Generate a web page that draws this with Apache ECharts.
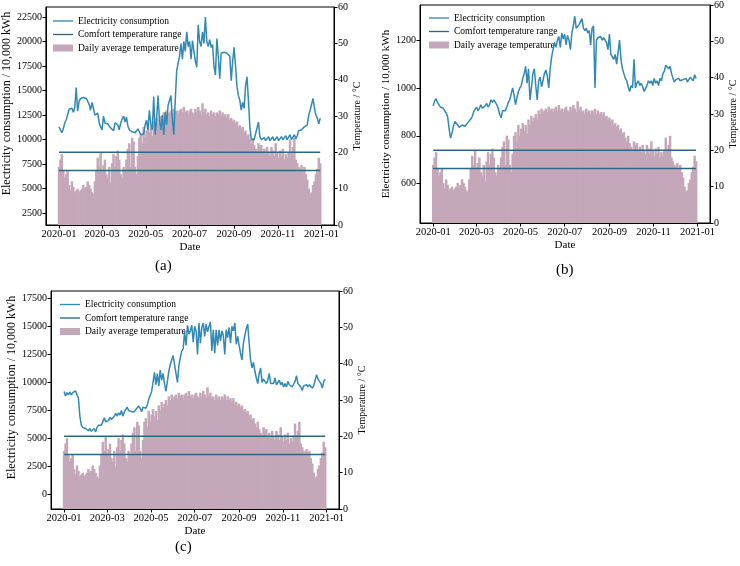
<!DOCTYPE html>
<html><head><meta charset="utf-8">
<script src="https://cdn.jsdelivr.net/npm/echarts@6/dist/echarts.min.js"></script>
<style>html,body{margin:0;padding:0;background:#fff}#c{width:740px;height:566px}</style>
</head><body><div id="c"></div>
<script>
// day index step of the sampled daily series (day 0 = 2020-01-01)
const DAY_STEP = 2;
const monthTicks = [0, 60, 121, 182, 244, 305, 366];
const monthTickLabels = ['2020-01', '2020-03', '2020-05', '2020-07', '2020-09', '2020-11', '2021-01'];
const comfortRange = [20, 15];
const tempTicks = [0, 10, 20, 30, 40, 50, 60];
const elecTicksA = [2500, 5000, 7500, 10000, 12500, 15000, 17500, 20000, 22500];
const elecTicksB = [600, 800, 1000, 1200];
const elecTicksC = [0, 2500, 5000, 7500, 10000, 12500, 15000, 17500];
const captions = ['(a)', '(b)', '(c)'];

const dailyAvgTemp = [
16, 18, 19.5, 15, 13, 14, 15, 11, 9.5, 12,
10.5, 9, 9.5, 10, 9, 9.5, 10, 11, 10, 10.5,
12, 11, 10, 9, 8.5, 12, 15, 18.5, 16, 20,
15, 16.5, 18, 14, 13, 16, 11.5, 17, 19.5, 16,
19, 20.5, 18, 14, 13, 16, 15, 18, 21, 22.5,
16, 24, 23, 16, 14, 19, 24, 25, 22.5, 27,
24, 26, 27.5, 25.5, 27, 24.5, 28.5, 27, 29.5, 28,
29, 30, 28.5, 31, 30, 31.5, 30.5, 31, 31.5, 30.5,
32, 31, 31.5, 30.5, 31.5, 32, 31, 32.5, 31, 31.5,
30.5, 31.5, 32, 31, 30.5, 32, 31, 32.5, 31.5, 30.5,
33.5, 31, 32, 30.5, 31, 30, 31.5, 30.5, 31, 30,
31, 30.5, 31.5, 30, 31, 30, 30.5, 29.5, 30.5, 29,
29.5, 28.5, 29, 28, 28.5, 27, 27.5, 26.5, 27, 25.5,
26, 24.5, 25, 23.5, 22.5, 24, 22, 21, 20, 22.5,
21.5, 22, 20, 21, 19.5, 21.5, 20, 19, 21.5, 20.5,
19, 22.5, 20, 18.5, 20.5, 19, 21, 18, 19.5, 18.5,
20, 23.5, 20, 21.5, 24, 18, 17, 16, 15.5, 16.5,
15, 16, 14, 12.5, 10, 8.5, 9, 11, 12, 14,
15.5, 18.5, 17
];

const elecA = [
11300, 11200, 10700, 11100, 11700, 12000, 12200, 13100, 12900, 13200,
12800, 13300, 15300, 12900, 13900, 14200, 14400, 14300, 14300, 14200,
14300, 13600, 13000, 13800, 13200, 12500, 12300, 12700, 11700, 11300,
11000, 12400, 11700, 11900, 11600, 11800, 11200, 11000, 10900, 11700,
11900, 11500, 11000, 11700, 12100, 12400, 11800, 12300, 11400, 11000,
10900, 10800, 11000, 10700, 10600, 11100, 10800, 10500, 10500, 10600,
11500, 12000, 11000, 13000, 11500, 11000, 14400, 10500, 12000, 14500,
12000, 11000, 12500, 10500, 12800, 11500, 13500, 14000, 14500, 12000,
10500, 14000, 17000, 17800, 18500, 19800, 18200, 20000, 19000, 21000,
19500, 20000, 18200, 20100, 19000, 18000, 17400, 21700, 20000, 19500,
21000, 19800, 22500, 20000, 19500, 20200, 19400, 19700, 17500, 16600,
20300, 18500, 16200, 18800, 19000, 18900, 19100, 18800, 19000, 18500,
16000, 18000, 19400, 17500, 15400, 14500, 14000, 13000, 13800, 13200,
15500, 16400, 14000, 11300, 10000, 10200, 10000, 10600, 10800, 11800,
10300, 10000, 9900, 10200, 9900, 9900, 10300, 9900, 10000, 10300,
9900, 9900, 10300, 9900, 10000, 10300, 10000, 10000, 10400, 10000,
10100, 10500, 10000, 10100, 10500, 10100, 10400, 10900, 10700, 11000,
10800, 11300, 11100, 11500, 12500, 13000, 13600, 14200, 13200, 12500,
12200, 11600, 12200
];

const elecB = [
925, 945, 955, 940, 935, 920, 925, 915, 910, 895,
880, 830, 790, 810, 840, 860, 855, 845, 835, 830,
845, 850, 840, 845, 855, 855, 870, 880, 900, 910,
920, 905, 915, 930, 915, 910, 925, 935, 920, 930,
950, 940, 950, 955, 930, 915, 890, 875, 905, 910,
905, 920, 940, 950, 945, 1000, 970, 930, 960, 985,
1000, 1010, 1040, 1060, 1090, 1020, 1080, 950, 1000, 1060,
1080, 1010, 950, 1030, 1045, 1005, 1030, 1060, 1075, 1050,
1000, 1080, 1130, 1160, 1190, 1170, 1200, 1215, 1170, 1230,
1205, 1225, 1180, 1220, 1200, 1160, 1230, 1260, 1300, 1250,
1255, 1265, 1260, 1290, 1250, 1240, 1250, 1230, 1240, 1180,
1250, 1260, 1000, 1200, 1210, 1205, 1215, 1200, 1210, 1205,
1190, 1160, 1225, 1140, 1145, 1120, 1140, 1100, 1150, 1200,
1120, 1080, 1060, 1040, 1030, 1005, 985, 1010, 1000, 1120,
1000, 1020, 1030, 1010, 1020, 1005, 985, 980, 1010, 1030,
1020, 1030, 1010, 1040, 1020, 1030, 1010, 1040, 1030, 1060,
1070, 1095, 1100, 1080, 1090, 1060, 1040, 1025, 1035, 1030,
1040, 1030, 1025, 1035, 1030, 1040, 1025, 1030, 1045, 1040,
1030, 1055, 1040
];

const elecC = [
9200, 8800, 9100, 8900, 9150, 8900, 9100, 9000, 9250, 8900,
8600, 7000, 6200, 6000, 5950, 5900, 6000, 5700, 5900, 5650,
5800, 5900, 5600, 6000, 6200, 6100, 6200, 6500, 6850, 6500,
6600, 6600, 6900, 6700, 6600, 7000, 7250, 7000, 7300, 7100,
7500, 7000, 7400, 7300, 7800, 7500, 7500, 7400, 7500, 7400,
7600, 7700, 7900, 7700, 7400, 7800, 7900, 7700, 8000, 8500,
8600, 9200, 10000, 10900, 9800, 10800, 9700, 11100, 10200, 10800,
9900, 9200, 10100, 11000, 11600, 12000, 12400, 12300, 10800, 10000,
11500, 12200, 12800, 13000, 14500, 13300, 15100, 14300, 14600, 15100,
13600, 15000, 14600, 12500, 15300, 13500, 14900, 15300, 14100, 15200,
14500, 15000, 15400, 12800, 14700, 12600, 14700, 13300, 14700, 13700,
14600, 14200, 12500, 14700, 14000, 14900, 13500, 15000, 14600, 15300,
13400, 14100, 13300, 12600, 12000, 13500, 14200, 14800, 15200, 13500,
12000, 11300, 11800, 11000, 10400, 9900, 10800, 11300, 10000, 10300,
10400, 9900, 10200, 10800, 9900, 9800, 9900, 10400, 9800, 9700,
10200, 9800, 10000, 9600, 9900, 9600, 10100, 9800, 9900, 9600,
9500, 10100, 10600, 9900, 10000, 9600, 9300, 9700, 9600, 9800,
9600, 9800, 9700, 9500, 9700, 10200, 10700, 10300, 10100, 9900,
9500, 10100, 10300
];

const FONT = "'Liberation Serif', 'Times New Roman', serif";
const ELEC_COLOR = '#3189b5';
const COMFORT_COLOR = '#2d6687';
const BAR_COLOR = '#c4a7b9';
const LINE_ICON = 'path://M0,0 L24,0 L24,1.6 L0,1.6 Z';

const panels = [
  {elec: elecA, ticks: elecTicksA, min: 1300, max: 23520, grid: {left: 45, top: 7, width: 289, height: 218},
   leftGap: 31, leftShift: 25, rightGap: 18, legend: {left: 48, top: 11}, titleSize: 12},
  {elec: elecB, ticks: elecTicksB, min: 435, max: 1347, grid: {left: 420, top: 5, width: 290, height: 218},
   leftGap: 27, leftShift: 0, rightGap: 17, legend: {left: 424, top: 8}, titleSize: 11},
  {elec: elecC, ticks: elecTicksC, min: -1272, max: 18150, grid: {left: 51, top: 291, width: 288, height: 218},
   leftGap: 33, leftShift: 25, rightGap: 17, legend: {left: 55, top: 294.5}, titleSize: 12}
];

const toXY = arr => arr.map((v, i) => [i * DAY_STEP, v]);
const lastDay = (dailyAvgTemp.length - 1) * DAY_STEP;

const grid = [], xAxis = [], yAxis = [], series = [], legend = [];
const axisLineStyle = {show: true, onZero: false, lineStyle: {color: '#000', width: 1}};
const tickStyle = {show: true, length: 3.5, lineStyle: {color: '#000'}};
const plain = v => String(v);
panels.forEach((p, k) => {
  grid.push(Object.assign({show: true, borderColor: '#000', borderWidth: 1, backgroundColor: 'transparent'}, p.grid));
  xAxis.push({
    type: 'value', gridIndex: k, min: -18.25, max: 383.25,
    name: 'Date', nameLocation: 'middle', nameGap: 17,
    nameTextStyle: {fontFamily: FONT, fontSize: 11, color: '#000'},
    axisLine: axisLineStyle,
    axisTick: Object.assign({customValues: monthTicks}, tickStyle),
    axisLabel: {customValues: monthTicks, fontFamily: FONT, fontSize: 10.5, color: '#000', margin: 4,
      formatter: v => monthTickLabels[monthTicks.indexOf(v)] || ''},
    splitLine: {show: false}
  });
  yAxis.push({
    type: 'value', gridIndex: k, position: 'left', min: p.min, max: p.max,
    name: 'Electricity consumption / 10,000 kWh', nameLocation: 'middle', nameGap: p.leftGap,
    nameTextStyle: {fontFamily: FONT, fontSize: p.titleSize, color: '#000', padding: [0, 0, 0, p.leftShift]},
    axisLine: axisLineStyle,
    axisTick: Object.assign({customValues: p.ticks}, tickStyle),
    axisLabel: {customValues: p.ticks, fontFamily: FONT, fontSize: 10, color: '#000', margin: 4, formatter: plain},
    splitLine: {show: false}
  });
  yAxis.push({
    type: 'value', gridIndex: k, position: 'right', min: 0, max: 60,
    name: 'Temperature / °C', nameLocation: 'middle', nameGap: p.rightGap,
    nameTextStyle: {fontFamily: FONT, fontSize: 10, color: '#000'},
    axisLine: axisLineStyle,
    axisTick: Object.assign({customValues: tempTicks}, tickStyle),
    axisLabel: {customValues: tempTicks, fontFamily: FONT, fontSize: 10, color: '#000', margin: 4, formatter: plain},
    splitLine: {show: false}
  });
  const lY = k * 2, rY = k * 2 + 1;
  series.push({
    type: 'bar', name: 'Daily average temperature', xAxisIndex: k, yAxisIndex: rY,
    data: toXY(dailyAvgTemp), barWidth: 2.5, itemStyle: {color: BAR_COLOR}, z: 1, silent: true
  });
  comfortRange.forEach(t => series.push({
    type: 'line', name: 'Comfort temperature range', xAxisIndex: k, yAxisIndex: rY,
    data: [[0, t], [lastDay, t]], symbol: 'none', lineStyle: {color: COMFORT_COLOR, width: 1.5},
    itemStyle: {color: COMFORT_COLOR}, z: 3, silent: true
  }));
  series.push({
    type: 'line', name: 'Electricity consumption', xAxisIndex: k, yAxisIndex: lY,
    data: toXY(p.elec), symbol: 'none', lineStyle: {color: ELEC_COLOR, width: 1.5},
    itemStyle: {color: ELEC_COLOR}, z: 6, silent: true
  });
  legend.push({
    left: p.legend.left, top: p.legend.top, orient: 'vertical', itemWidth: 20, itemHeight: 7, itemGap: 3.5,
    selectedMode: false, textStyle: {fontFamily: FONT, fontSize: 9.5, color: '#000'},
    data: [
      {name: 'Electricity consumption', icon: LINE_ICON},
      {name: 'Comfort temperature range', icon: LINE_ICON},
      {name: 'Daily average temperature', icon: 'rect'}
    ]
  });
});

const chart = echarts.init(document.getElementById('c'), null, {renderer: 'canvas'});
chart.setOption({
  animation: false,
  backgroundColor: '#fff',
  grid, xAxis, yAxis, series, legend,
  graphic: [
    {type: 'text', left: 155, top: 259, style: {text: captions[0], font: '15px ' + FONT, fill: '#000'}},
    {type: 'text', left: 556, top: 263, style: {text: captions[1], font: '15px ' + FONT, fill: '#000'}},
    {type: 'text', left: 175, top: 540, style: {text: captions[2], font: '15px ' + FONT, fill: '#000'}}
  ]
});
</script></body></html>
